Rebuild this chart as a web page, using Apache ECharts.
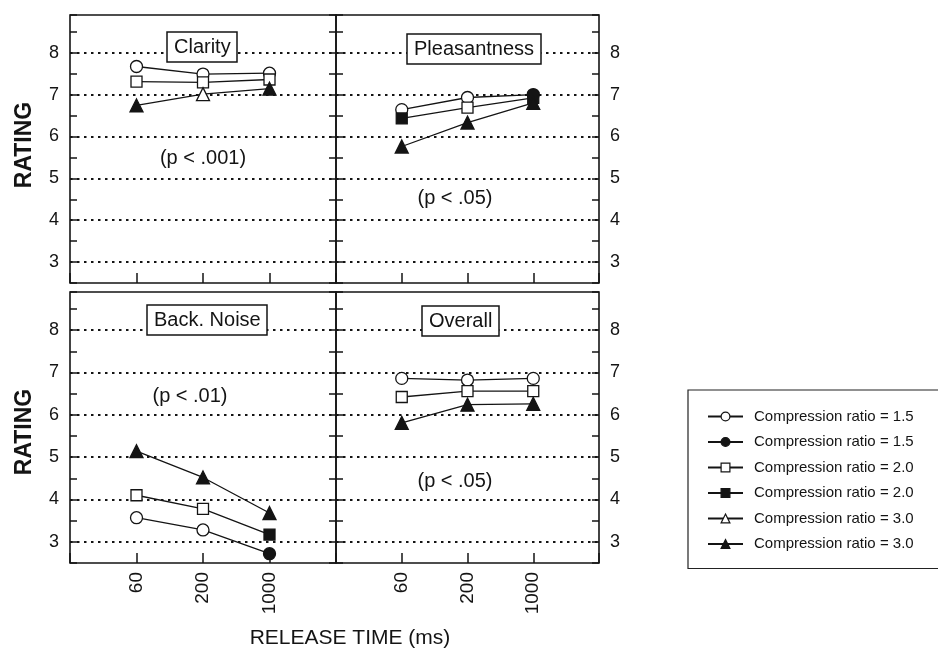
<!DOCTYPE html>
<html>
<head>
<meta charset="utf-8">
<script src="https://cdn.jsdelivr.net/npm/echarts@6/dist/echarts.min.js"></script>
<style>
html,body{margin:0;padding:0;background:#fff;}
#chart{width:938px;height:651px;}
</style>
</head>
<body>
<div id="chart"></div>
<script>
// ---------- data ----------
const releaseTimes = ['60', '200', '1000'];
const ratingTicks = [3, 4, 5, 6, 7, 8];
const panelTitles = ['Clarity', 'Pleasantness', 'Back. Noise', 'Overall'];
const pValues = ['(p < .001)', '(p < .05)', '(p < .01)', '(p < .05)'];
const legendLabels = ['Compression ratio = 1.5', 'Compression ratio = 1.5',
  'Compression ratio = 2.0', 'Compression ratio = 2.0',
  'Compression ratio = 3.0', 'Compression ratio = 3.0'];
const xTitle = 'RELEASE TIME (ms)';
const yTitle = 'RATING';

// values per panel and compression ratio; fill flags: 'o' = open marker, 'f' = filled marker
const clarityCR15 = [7.67, 7.49, 7.51];      const clarityCR15Fill = ['o', 'o', 'o'];
const clarityCR20 = [7.31, 7.29, 7.36];      const clarityCR20Fill = ['o', 'o', 'o'];
const clarityCR30 = [6.74, 7.01, 7.14];      const clarityCR30Fill = ['f', 'o', 'f'];

const pleasantCR15 = [6.64, 6.93, 7.00];     const pleasantCR15Fill = ['o', 'o', 'f'];
const pleasantCR20 = [6.43, 6.69, 6.92];     const pleasantCR20Fill = ['f', 'o', 'f'];
const pleasantCR30 = [5.76, 6.33, 6.80];     const pleasantCR30Fill = ['f', 'f', 'f'];

const noiseCR15 = [3.57, 3.28, 2.72];        const noiseCR15Fill = ['o', 'o', 'f'];
const noiseCR20 = [4.10, 3.78, 3.17];        const noiseCR20Fill = ['o', 'o', 'f'];
const noiseCR30 = [5.14, 4.52, 3.68];        const noiseCR30Fill = ['f', 'f', 'f'];

const overallCR15 = [6.86, 6.82, 6.86];      const overallCR15Fill = ['o', 'o', 'o'];
const overallCR20 = [6.42, 6.56, 6.56];      const overallCR20Fill = ['o', 'o', 'o'];
const overallCR30 = [5.81, 6.24, 6.26];      const overallCR30Fill = ['f', 'f', 'f'];

// ---------- layout / styles ----------
const FONT = '"Liberation Sans", Arial, sans-serif';
const INK = '#141414';
const panels = [
  { grid: { left: 70, top: 15, width: 266, height: 268 }, labelSide: 'left', xLabels: false,
    title: { left: 167, top: 32 }, p: [203, 158],
    sets: [[clarityCR15, clarityCR15Fill], [clarityCR20, clarityCR20Fill], [clarityCR30, clarityCR30Fill]] },
  { grid: { left: 336, top: 15, width: 263, height: 268 }, labelSide: 'right', xLabels: false,
    title: { left: 407, top: 34 }, p: [455, 198],
    sets: [[pleasantCR15, pleasantCR15Fill], [pleasantCR20, pleasantCR20Fill], [pleasantCR30, pleasantCR30Fill]] },
  { grid: { left: 70, top: 292, width: 266, height: 271 }, labelSide: 'left', xLabels: true,
    title: { left: 147, top: 305 }, p: [190, 396],
    sets: [[noiseCR15, noiseCR15Fill], [noiseCR20, noiseCR20Fill], [noiseCR30, noiseCR30Fill]] },
  { grid: { left: 336, top: 292, width: 263, height: 271 }, labelSide: 'right', xLabels: true,
    title: { left: 422, top: 306 }, p: [455, 481],
    sets: [[overallCR15, overallCR15Fill], [overallCR20, overallCR20Fill], [overallCR30, overallCR30Fill]] }
];
const symbols = [['circle', 12], ['rect', 11], ['triangle', 13]];

const grid = [], xAxis = [], yAxis = [], series = [], title = [], graphic = [];

panels.forEach((p, g) => {
  grid.push(Object.assign({ show: true, borderColor: INK, borderWidth: 1.6, backgroundColor: 'transparent' }, p.grid));
  xAxis.push({
    type: 'value', gridIndex: g, min: -1, max: 3, interval: 1, position: 'bottom',
    axisLine: { show: false, onZero: false },
    axisTick: { show: true, inside: true, length: 10, lineStyle: { color: INK, width: 1.5 } },
    splitLine: { show: false },
    axisLabel: {
      show: p.xLabels, rotate: 90, margin: 9, fontSize: 19, fontFamily: FONT, color: INK,
      formatter: v => (releaseTimes[v] !== undefined ? releaseTimes[v] : '')
    }
  });
  ['left', 'right'].forEach(side => {
    yAxis.push({
      type: 'value', gridIndex: g, min: 2.5, max: 8.9, interval: 0.5, position: side,
      axisLine: { show: false, onZero: false },
      axisTick: { show: true, inside: true, length: 7, lineStyle: { color: INK, width: 1.5 } },
      splitLine: { show: false },
      axisLabel: {
        show: side === p.labelSide, margin: 11, fontSize: 18, fontFamily: FONT, color: INK,
        formatter: v => (ratingTicks.indexOf(Math.round(v * 1000) / 1000) >= 0 ? String(Math.round(v)) : '')
      }
    });
  });
  p.sets.forEach((set, k) => {
    const [vals, fills] = set;
    const s = {
      type: 'line', xAxisIndex: g, yAxisIndex: g * 2, z: 3,
      symbol: symbols[k][0], symbolSize: symbols[k][1], showAllSymbol: true,
      lineStyle: { color: INK, width: 1.3 },
      itemStyle: { color: '#fff', borderColor: INK, borderWidth: 1.3 },
      data: vals.map((v, i) => ({
        value: [i, v],
        itemStyle: { color: fills[i] === 'f' ? INK : '#fff', borderColor: INK, borderWidth: 1.3 }
      })),
      animation: false, silent: true
    };
    if (k === 0) {
      s.markLine = {
        silent: true, z: 1, symbol: ['none', 'none'], animation: false,
        label: { show: false },
        lineStyle: { color: INK, type: [2.5, 4.5], width: 2 },
        data: ratingTicks.map(t => ({ yAxis: t }))
      };
    }
    series.push(s);
  });
  title.push({
    text: panelTitles[g], left: p.title.left, top: p.title.top,
    padding: [5, 7], borderColor: INK, borderWidth: 1.5, backgroundColor: '#fff',
    textStyle: { fontFamily: FONT, fontSize: 20, fontWeight: 'normal', color: INK }
  });
  graphic.push({
    type: 'text', x: p.p[0], y: p.p[1], z: 100,
    style: { text: pValues[g], font: '20px ' + FONT, fill: INK, textAlign: 'center', textVerticalAlign: 'middle' }
  });
});

// legend-only series
const legendKeys = ['r15o', 'r15f', 'r20o', 'r20f', 'r30o', 'r30f'];
const legendMap = {};
legendKeys.forEach((key, i) => {
  legendMap[key] = legendLabels[i];
  const filled = key.endsWith('f');
  series.push({
    type: 'line', name: key, xAxisIndex: 0, yAxisIndex: 0, data: [],
    symbol: symbols[Math.floor(i / 2)][0],
    lineStyle: { color: INK, width: 1.3 },
    itemStyle: { color: filled ? INK : '#fff', borderColor: INK, borderWidth: 1.3 },
    animation: false
  });
});

graphic.push({
  type: 'text', x: 25, y: 145, rotation: Math.PI / 2, z: 100,
  style: { text: yTitle, font: 'bold 23px ' + FONT, fill: INK, textAlign: 'center', textVerticalAlign: 'middle' }
});
graphic.push({
  type: 'text', x: 25, y: 432, rotation: Math.PI / 2, z: 100,
  style: { text: yTitle, font: 'bold 23px ' + FONT, fill: INK, textAlign: 'center', textVerticalAlign: 'middle' }
});
graphic.push({
  type: 'text', x: 350, y: 638, z: 100,
  style: { text: xTitle, font: '21px ' + FONT, fill: INK, textAlign: 'center', textVerticalAlign: 'middle' }
});

const option = {
  backgroundColor: '#fff',
  animation: false,
  grid, xAxis, yAxis, series, title, graphic,
  legend: {
    data: legendKeys, formatter: name => legendMap[name],
    orient: 'vertical', left: 688, top: 390, selectedMode: false,
    itemWidth: 35, itemHeight: 11, itemGap: 10.5,
    padding: [19, 30, 17, 19],
    borderColor: '#222', borderWidth: 1.2,
    itemStyle: { borderWidth: 1.2 },
    textStyle: { fontFamily: FONT, fontSize: 15, color: INK, padding: [0, 0, 0, 6] }
  }
};

const chart = echarts.init(document.getElementById('chart'), null, { renderer: 'canvas' });
chart.setOption(option);
</script>
</body>
</html>
